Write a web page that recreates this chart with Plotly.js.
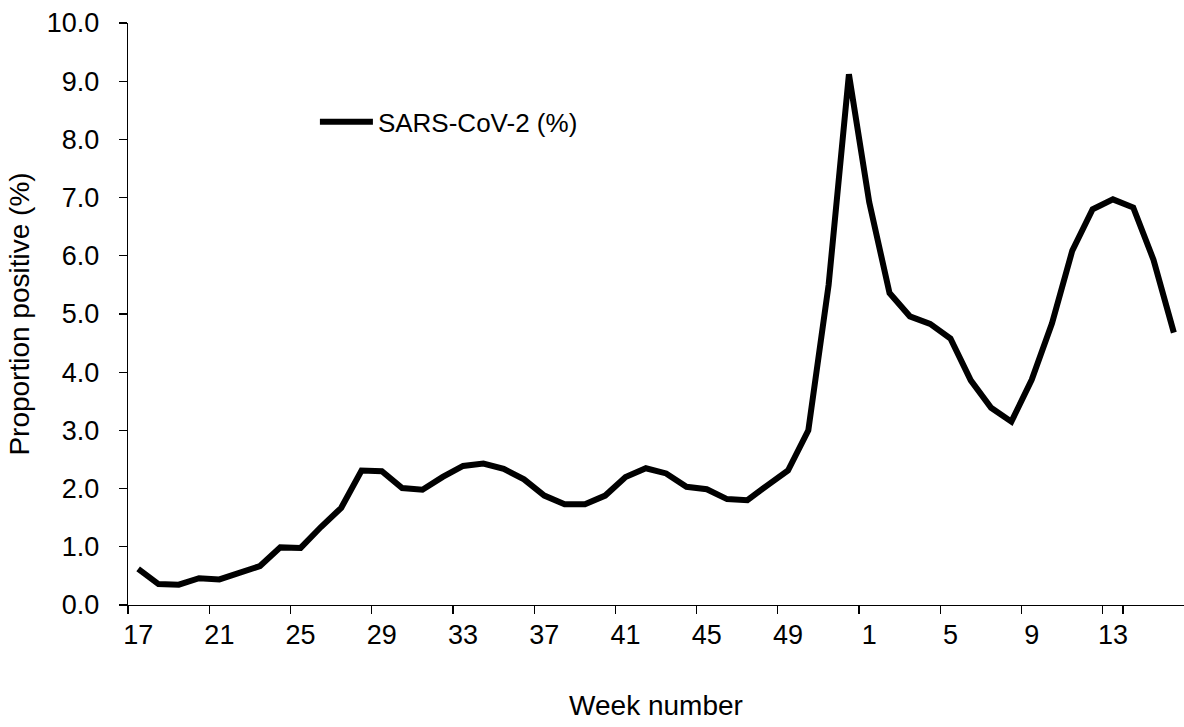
<!DOCTYPE html>
<html>
<head>
<meta charset="utf-8">
<script src="https://cdn.plot.ly/plotly-3.0.1.min.js"></script>
<style>html,body{margin:0;padding:0;background:#fff;}#chart{width:1184px;height:727px;}</style>
</head>
<body>
<div id="chart"></div>
<script>
// Week numbers (week 17 of one year through week 16 of the next)
const weeks = ["17","18","19","20","21","22","23","24","25","26","27","28","29","30","31","32","33","34","35","36","37","38","39","40","41","42","43","44","45","46","47","48","49","50","51","52","1","2","3","4","5","6","7","8","9","10","11","12","13","14","15","16"];
// Proportion positive for SARS-CoV-2 (%)
const sarsCov2 = [0.62,0.36,0.35,0.46,0.44,0.56,0.67,0.99,0.98,1.34,1.67,2.31,2.30,2.01,1.98,2.20,2.39,2.43,2.34,2.16,1.88,1.73,1.73,1.88,2.20,2.35,2.26,2.03,1.99,1.82,1.80,2.06,2.31,3.00,5.50,9.12,6.92,5.36,4.96,4.83,4.58,3.86,3.39,3.15,3.87,4.84,6.09,6.80,6.97,6.83,5.93,4.68];
// Labelled weeks on the x axis
const xTickLabels = ["17","21","25","29","33","37","41","45","49","1","5","9","13"];
const yTickVals = [0,1,2,3,4,5,6,7,8,9,10];
const seriesName = "SARS-CoV-2 (%)";

const FONT = "Liberation Sans, Arial, Helvetica, sans-serif";

const trace = {
  x: weeks,
  y: sarsCov2,
  type: "scatter",
  mode: "lines",
  name: seriesName,
  line: {color: "#000000", width: 6},
  showlegend: true
};

const layout = {
  width: 1184,
  height: 727,
  margin: {l: 128, r: 0, t: 23, b: 122, pad: 0},
  paper_bgcolor: "#ffffff",
  plot_bgcolor: "#ffffff",
  font: {family: FONT, size: 27, color: "#000000"},
  showlegend: true,
  legend: {
    x: 0.177, y: 0.83, xanchor: "left", yanchor: "middle",
    itemwidth: 53,
    bgcolor: "rgba(0,0,0,0)",
    font: {family: FONT, size: 26, color: "#000000"}
  },
  xaxis: {
    type: "category",
    categoryorder: "array",
    categoryarray: weeks,
    range: [-0.5, weeks.length - 0.5],
    tickmode: "array",
    tickvals: xTickLabels,
    ticktext: xTickLabels,
    tickson: "boundaries",
    tickangle: 0,
    ticks: "outside",
    ticklen: 8,
    tickwidth: 1.3,
    tickcolor: "#000000",
    ticklabelstandoff: 5,
    showline: true,
    linecolor: "#000000",
    linewidth: 1.3,
    showgrid: false,
    zeroline: false,
    tickfont: {family: FONT, size: 27, color: "#000000"},
    title: {text: "Week number", font: {family: FONT, size: 28, color: "#000000"}, standoff: 46}
  },
  yaxis: {
    range: [0, 10],
    tickmode: "array",
    tickvals: yTickVals,
    tickformat: ".1f",
    ticks: "outside",
    ticklen: 8,
    tickwidth: 1.3,
    tickcolor: "#000000",
    ticklabelstandoff: 14,
    showline: true,
    linecolor: "#000000",
    linewidth: 1.3,
    showgrid: false,
    zeroline: false,
    tickfont: {family: FONT, size: 27, color: "#000000"},
    title: {text: "Proportion positive (%)", font: {family: FONT, size: 28, color: "#000000"}, standoff: 9}
  }
};

Plotly.newPlot("chart", [trace], layout, {displayModeBar: false, staticPlot: true});
</script>
</body>
</html>
